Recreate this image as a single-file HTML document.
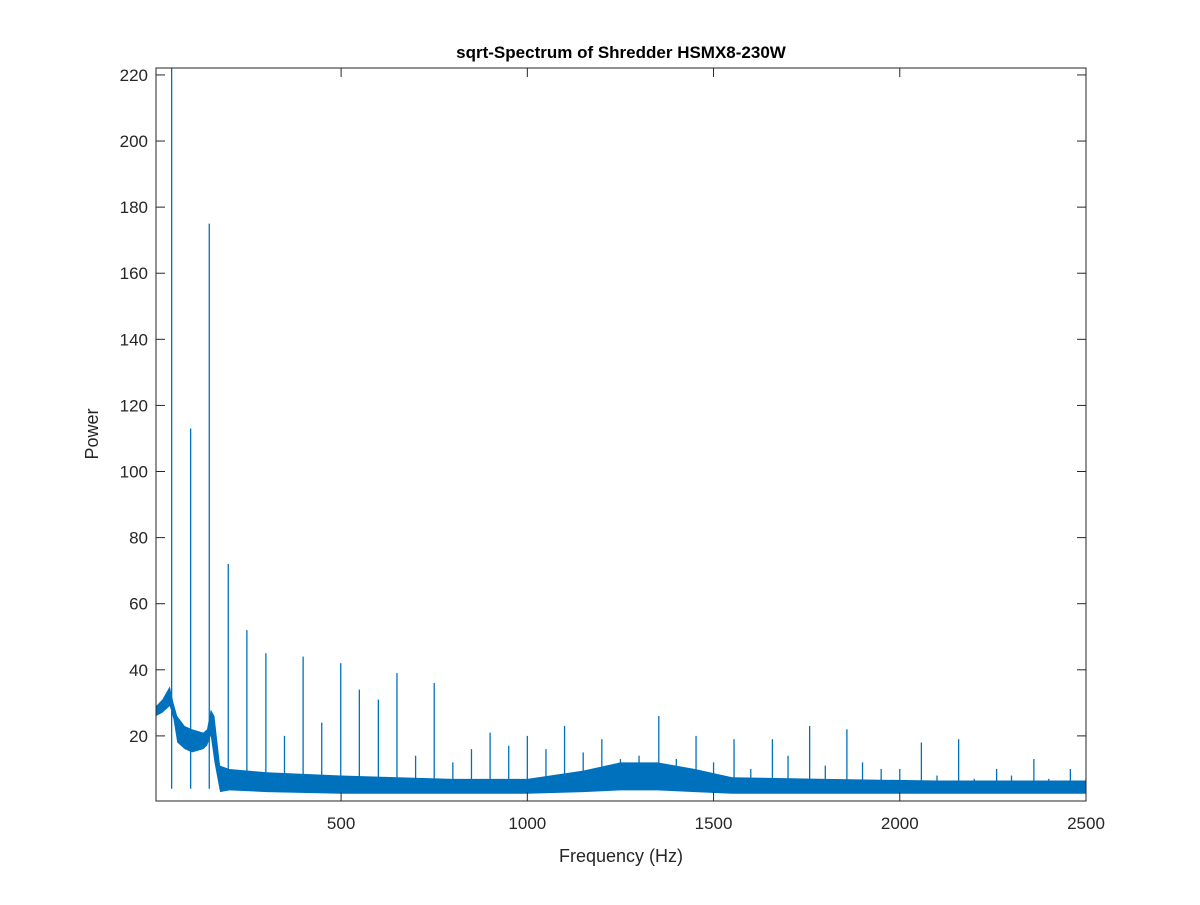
<!DOCTYPE html>
<html><head><meta charset="utf-8">
<style>
body{margin:0;background:#fff;}
svg text{font-family:"Liberation Sans",Arial,sans-serif;fill:#262626;}
</style></head>
<body>
<svg id="chart" width="1200" height="900" xmlns="http://www.w3.org/2000/svg">
<rect width="1200" height="900" fill="#fff"/>
<text x="621" y="58" font-size="17" font-weight="bold" text-anchor="middle" style="fill:#000">sqrt-Spectrum of Shredder HSMX8-230W</text>
<g id="plot"></g>
<text x="621" y="862" font-size="18" text-anchor="middle">Frequency (Hz)</text>
<text x="98" y="434" font-size="18" text-anchor="middle" transform="rotate(-90 98 434)">Power</text>
</svg>
<script>
const peakFreqs=[45,96,146,197,247,298,348,398,448,499,549,600,650,700,750,800,850,900,950,1000,1050,1100,1150,1200,1250,1300,1353,1400,1453,1500,1555,1600,1658,1700,1758,1800,1858,1900,1950,2000,2058,2100,2158,2200,2260,2300,2360,2400,2458,2500];
const peakValues=[222,113,175,72,52,45,20,44,24,42,34,31,39,14,36,12,16,21,17,20,16,23,15,19,13,14,26,13,20,12,19,10,19,14,23,11,22,12,10,10,18,8,19,7,10,8,13,7,10,7];
const envFreqs=[3,20,40,50,60,80,100,130,140,150,160,175,200,300,500,800,1000,1150,1250,1350,1450,1550,1800,2100,2500];
const envLow=[26,27,29,25,18,16,15,16,17,20,12,3,3.5,3,2.5,2.5,2.5,3,3.5,3.5,3,2.5,2.5,2.5,2.5];
const envHigh=[29,31,35,30,26,23,22,21,22,28,26,11,10,9,8,7,7,9.5,12,12,10,7.5,7,6.5,6.5];
const xTicks=[500,1000,1500,2000,2500];
const yTicks=[20,40,60,80,100,120,140,160,180,200,220];
const L=156,R=1086,T=68,B=801,xMin=3,xMax=2500,yMin=0.3,yMax=222.1;
const xs=v=>L+(v-xMin)/(xMax-xMin)*(R-L);
const ys=v=>B-(v-yMin)/(yMax-yMin)*(B-T);
const NS="http://www.w3.org/2000/svg";
const g=document.getElementById('plot');
function mk(t,a){const e=document.createElementNS(NS,t);for(const k in a)e.setAttribute(k,a[k]);g.appendChild(e);return e;}
const cp=mk('clipPath',{id:'clip'});const cr=document.createElementNS(NS,'rect');cp.appendChild(cr);
cr.setAttribute('x',L);cr.setAttribute('y',T);cr.setAttribute('width',R-L);cr.setAttribute('height',B-T);
let d='';
envFreqs.forEach((f,i)=>{d+=(i?'L':'M')+xs(f)+','+ys(envHigh[i]);});
for(let i=envFreqs.length-1;i>=0;i--)d+='L'+xs(envFreqs[i])+','+ys(envLow[i]);
const band=mk('path',{d:d+'Z',fill:'#0072bd','clip-path':'url(#clip)'});


peakFreqs.forEach((f,i)=>{
  const l=mk('line',{x1:xs(f),x2:xs(f),y1:ys(peakValues[i]),y2:ys(4),stroke:'#0072bd','stroke-width':1.3,'clip-path':'url(#clip)'});
  
  
});
const box=mk('rect',{x:L,y:T,width:R-L,height:B-T,fill:'none',stroke:'#262626','stroke-width':1});


xTicks.forEach(v=>{
  const x=xs(v);
  mk('line',{x1:x,x2:x,y1:B,y2:B-9,stroke:'#262626'});
  mk('line',{x1:x,x2:x,y1:T,y2:T+9,stroke:'#262626'});
  const t=mk('text',{x:x,y:B+28,'font-size':17,'text-anchor':'middle'});t.textContent=v;
  
  
});
yTicks.forEach(v=>{
  const y=ys(v);
  mk('line',{x1:L,x2:L+9,y1:y,y2:y,stroke:'#262626'});
  mk('line',{x1:R,x2:R-9,y1:y,y2:y,stroke:'#262626'});
  const t=mk('text',{x:L-8,y:y+6,'font-size':17,'text-anchor':'end'});t.textContent=v;
  
  
});
</script>
</body></html>
